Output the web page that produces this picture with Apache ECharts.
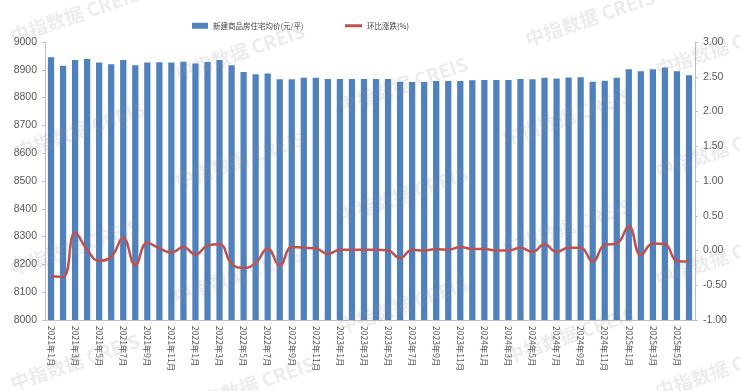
<!DOCTYPE html>
<html><head><meta charset="utf-8">
<script src="https://cdn.jsdelivr.net/npm/echarts@6/dist/echarts.min.js"></script>
<style>html,body{margin:0;padding:0;background:#fff}#c{width:740px;height:391px}</style>
</head><body><div id="c"></div>
<script>
const categories = [];
for (let y = 2021; y <= 2025; y++) for (let m = 1; m <= 12; m++) { if (y === 2025 && m > 6) break; categories.push(y + '年' + m + '月'); }
const priceName = '新建商品房住宅均价(元/平)';
const chgName = '环比涨跌(%)';
const prices = [8945, 8915, 8935, 8939, 8926, 8920, 8935, 8916, 8926, 8927,
  8926, 8929, 8923, 8928, 8935, 8916, 8892, 8884, 8887, 8866,
  8866, 8871, 8871, 8867, 8867, 8867, 8867, 8867, 8867, 8857,
  8856, 8856, 8860, 8860, 8860, 8862, 8863, 8863, 8863, 8867,
  8866, 8871, 8869, 8872, 8873, 8857, 8861, 8871, 8902, 8895,
  8902, 8908, 8895, 8880];
const changes = [-0.37, -0.38, 0.26, 0.01, -0.15, -0.09, 0.18, -0.21, 0.11, 0.03,
  -0.03, 0.05, -0.06, 0.07, 0.09, -0.19, -0.25, -0.18, 0.03, -0.22,
  0.05, 0.04, 0.03, -0.05, 0.01, 0.01, 0.01, 0.01, 0.00, -0.11,
  0.01, 0.00, 0.02, 0.01, 0.05, 0.02, 0.02, 0.00, 0.00, 0.04,
  -0.02, 0.09, -0.02, 0.04, 0.04, -0.16, 0.08, 0.10, 0.35, -0.07,
  0.10, 0.09, -0.15, -0.16];
const leftTicks = {min: 8000, max: 9000, interval: 100};
const rightTicks = {min: -1, max: 3, interval: 0.5};
const watermarkText = '中指数据 CREIS';
const wmPos = [[75,15],[240,52],[403,85],[590,18],[720,48],[80,130],[240,160],[403,195],[567,117],[720,150],
  [75,247],[238,275],[403,305],[567,227],[720,258],[75,362],[250,385],[570,335],[720,370]];

const chart = echarts.init(document.getElementById('c'));
const axisTxt = {color: '#595959', fontSize: 10.5, fontFamily: 'Liberation Sans, Arial, sans-serif'};
const legendTxt = {color: '#404040', fontSize: 7.5, fontFamily: 'Noto Sans CJK SC'};
chart.setOption({
  animation: false,
  legend: [{
    top: 17, left: 187, itemWidth: 16, itemHeight: 6, itemGap: 4, textStyle: legendTxt,
    data: [{name: priceName, icon: 'rect'}]
  }, {
    top: 17, left: 340, itemWidth: 17, itemHeight: 3, textStyle: legendTxt,
    data: [{name: chgName, icon: 'rect'}]
  }],
  grid: {left: 45, right: 45, top: 42, bottom: 71},
  xAxis: {
    type: 'category', data: categories,
    axisLine: {onZero: false, lineStyle: {color: '#bfbfbf'}},
    axisTick: {show: false},
    axisLabel: {interval: 1, rotate: -90, color: '#595959', fontSize: 8.5, fontFamily: 'Noto Sans CJK SC', margin: 6}
  },
  yAxis: [{
    type: 'value', min: leftTicks.min, max: leftTicks.max, interval: leftTicks.interval,
    axisLine: {show: true, lineStyle: {color: '#bfbfbf'}},
    axisTick: {show: true, length: 3, lineStyle: {color: '#bfbfbf'}},
    splitLine: {show: false},
    axisLabel: Object.assign({margin: 8, formatter: v => String(v)}, axisTxt)
  }, {
    type: 'value', min: rightTicks.min, max: rightTicks.max, interval: rightTicks.interval,
    axisLine: {show: true, lineStyle: {color: '#bfbfbf'}},
    axisTick: {show: true, length: 3, lineStyle: {color: '#bfbfbf'}},
    splitLine: {show: false},
    axisLabel: Object.assign({margin: 8, formatter: v => v.toFixed(2)}, axisTxt)
  }],
  series: [{
    name: priceName, type: 'bar', data: prices, barWidth: '52%',
    itemStyle: {color: '#4f81bd'}
  }, {
    name: chgName, type: 'line', yAxisIndex: 1, data: changes, smooth: 0.45,
    showSymbol: false, lineStyle: {color: '#c0504d', width: 2.5}, itemStyle: {color: '#c0504d'}
  }],
  graphic: wmPos.map(p => ({
    type: 'text', x: p[0], y: p[1], rotation: 0.33, z: 100, silent: true,
    style: {text: watermarkText, fill: 'rgba(150,150,150,0.18)', font: 'bold 19px "Noto Sans CJK SC"', align: 'center', verticalAlign: 'middle'}
  }))
});
</script></body></html>
